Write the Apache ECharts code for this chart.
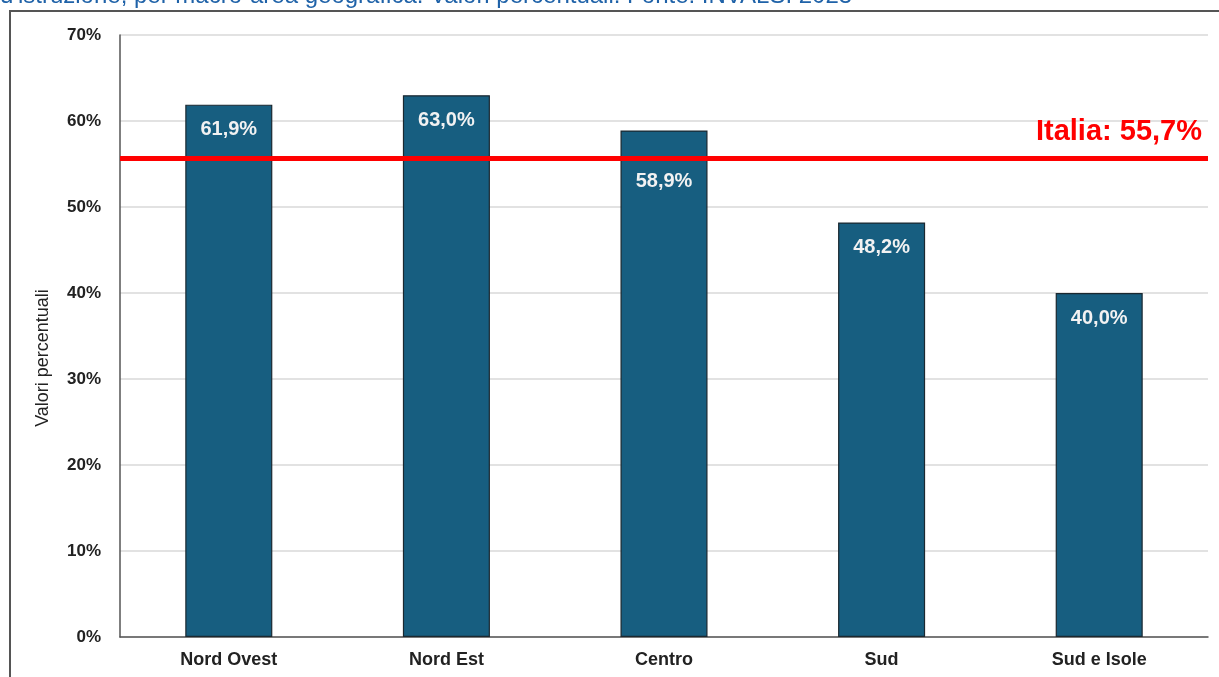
<!DOCTYPE html>
<html lang="it">
  <head>
    <meta charset="UTF-8" />
    <script src="https://cdn.jsdelivr.net/npm/echarts@6/dist/echarts.min.js"></script>
    <title>Valori percentuali per macro-area</title>
    <style>
      html, body { margin: 0; padding: 0; background: #fff; }
      #container { width: 1219px; height: 677px; }
    </style>
  </head>
  <body>
    <div id="container"></div>

    <script>
      // data
      const areas = ["Nord Ovest", "Nord Est", "Centro", "Sud", "Sud e Isole"];
      const values = [61.9, 63.0, 58.9, 48.2, 40.0];
      const italia = 55.7;
      const topLine = "d'istruzione, per macro-area geografica. Valori percentuali. Fonte: INVALSI 2023";

      const fmt = (v) => v.toFixed(1).replace(".", ",") + "%";
      const font = "'Liberation Sans', Arial, sans-serif";

      const myChart = echarts.init(document.getElementById("container"));

      const option = {
        animation: false,
        textStyle: { fontFamily: font },
        graphic: [
          {
            type: "rect",
            shape: { x: 10, y: 11, width: 1240, height: 700 },
            style: { fill: "none", stroke: "#555", lineWidth: 2 },
            silent: true,
          },
          {
            type: "text",
            left: 0,
            top: -16,
            style: {
              text: topLine,
              fill: "#1f62a8",
              font: "24px " + font,
            },
          },
        ],
        grid: { left: 120, right: 11, top: 35, bottom: 40 },
        xAxis: {
          type: "category",
          data: areas,
          axisLine: { lineStyle: { color: "#555", width: 1.5 } },
          axisTick: { show: false },
          axisLabel: {
            color: "#222",
            fontWeight: "bold",
            fontSize: 18,
            margin: 14,
          },
        },
        yAxis: {
          type: "value",
          min: 0,
          max: 70,
          interval: 10,
          name: "Valori percentuali",
          nameLocation: "middle",
          nameGap: 68,
          nameTextStyle: { color: "#222", fontSize: 18, padding: [0, 44, 0, 0] },
          axisLine: { show: true, lineStyle: { color: "#555", width: 1.5 } },
          splitLine: { lineStyle: { color: "#d9d9d9", width: 1.5 } },
          axisLabel: {
            color: "#222",
            fontWeight: "bold",
            fontSize: 17,
            margin: 19,
            formatter: "{value}%",
          },
        },
        series: [
          {
            type: "bar",
            barWidth: "40%",
            data: values.map((v, i) => ({
              value: v,
              label: i === 2 ? { offset: [0, 26] } : {},
            })),
            itemStyle: {
              color: "#175e80",
              borderColor: "#1b2830",
              borderWidth: 1.2,
            },
            label: {
              show: true,
              position: "insideTop",
              distance: 15,
              color: "#f2f2f2",
              fontWeight: "bold",
              fontSize: 20,
              formatter: (p) => fmt(p.value),
            },
            markLine: {
              silent: true,
              symbol: "none",
              lineStyle: { color: "#ff0000", width: 5, type: "solid" },
              data: [{ yAxis: italia }],
              label: {
                position: "insideEndTop",
                formatter: "Italia: " + fmt(italia),
                color: "#ff0000",
                fontWeight: "bold",
                fontSize: 29,
                distance: [6, 11],
              },
            },
          },
        ],
      };

      myChart.setOption(option);
    </script>
  </body>
</html>
